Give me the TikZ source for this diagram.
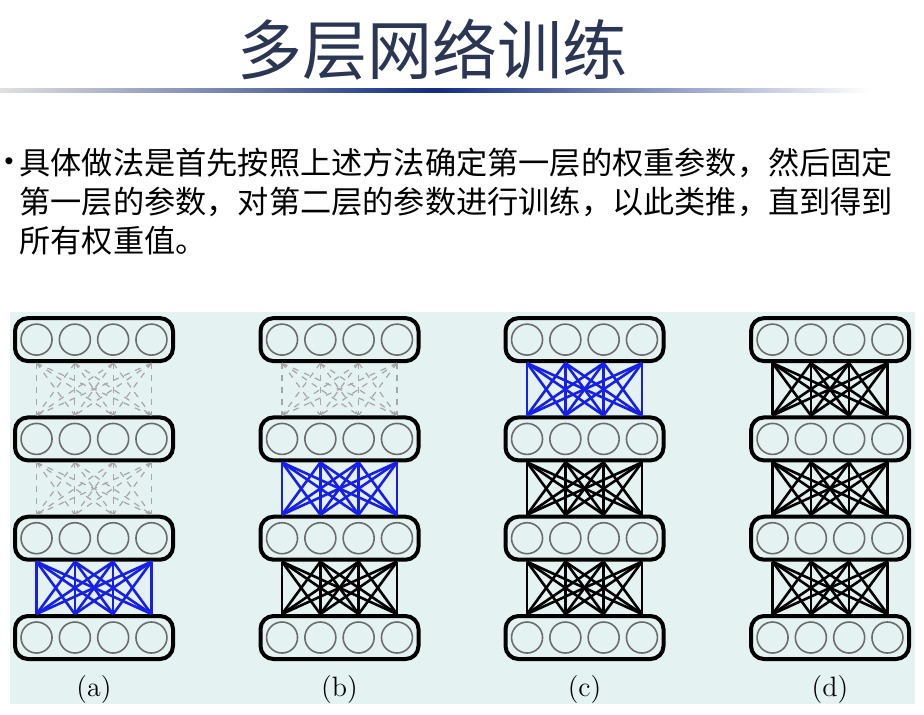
\documentclass[tikz,border=0pt]{standalone}
\usepackage{fontspec}
\newfontfamily\cjk{Noto Sans CJK SC}

\definecolor{panel}{RGB}{229,242,242}
\definecolor{titleblue}{RGB}{42,54,84}
\definecolor{rulemid}{RGB}{18,44,130}
\definecolor{linkblue}{RGB}{22,32,232}
\definecolor{ringgray}{RGB}{108,108,108}

\tikzset{
  layerbox/.style={draw=black, line width=2pt, rounded corners=6.5pt,
    minimum width=79pt, minimum height=21.5pt, inner sep=0pt},
  unit/.style={circle, draw=ringgray, line width=0.8pt, minimum size=15.5pt, inner sep=0pt},
  frozen/.style={black, line width=1.3pt},
  training/.style={linkblue, line width=1.3pt},
  untrained/.style={black!35, dashed, line width=0.6pt},
  bodytext/.style={anchor=west, inner sep=0pt, font=\cjk\fontsize{15.6}{19.5}\selectfont},
}

\begin{document}
\begin{tikzpicture}[x=0.5pt, y=-0.5pt]
\useasboundingbox (0,0) rectangle (924,714);

% title
\node[text=titleblue, font=\cjk\fontsize{32.5}{36}\selectfont] (title) at (432,50) {多层网络训练};
\shade[left color=black!12, right color=white, middle color=rulemid] (0,88) rectangle (870,92);

% text
\node[inner sep=0pt, font=\fontsize{13}{15}\selectfont] (dot) at (9,163) {\textbullet};
\node[bodytext] (line1) at (19,163) {具体做法是首先按照上述方法确定第一层的权重参数，然后固定};
\node[bodytext] (line2) at (19,202) {第一层的参数，对第二层的参数进行训练，以此类推，直到得到};
\node[bodytext] (line3) at (19,241) {所有权重值。};

% figure
\fill[panel] (10,312) rectangle (915,704);

\foreach \col/\cx/\sa/\sb/\sc in {a/94/training/untrained/untrained,
    b/339.5/frozen/training/untrained,
    c/584.5/frozen/frozen/training,
    d/830/frozen/frozen/frozen}
{
  \foreach \l in {1,...,4}{
    \node[layerbox] (\col\l) at (\cx,{637.5-99.3*(\l-1)}) {};
    \foreach \k in {1,...,4}
      \node[unit] (\col\l-\k) at ({\cx+38.3*(\k-2.5)},{637.5-99.3*(\l-1)}) {};
  }
  \foreach \l/\u/\st in {1/2/\sa, 2/3/\sb, 3/4/\sc}
    \foreach \i in {1,...,4}
      \foreach \j in {1,...,4}
        \draw[\st] (\col\u-\i |- \col\u.south) -- (\col\l-\j |- \col\l.north);
  \node[font=\fontsize{14}{16}\selectfont] (lab-\col) at (\cx,689) {(\col)};
}

\end{tikzpicture}
\end{document}
